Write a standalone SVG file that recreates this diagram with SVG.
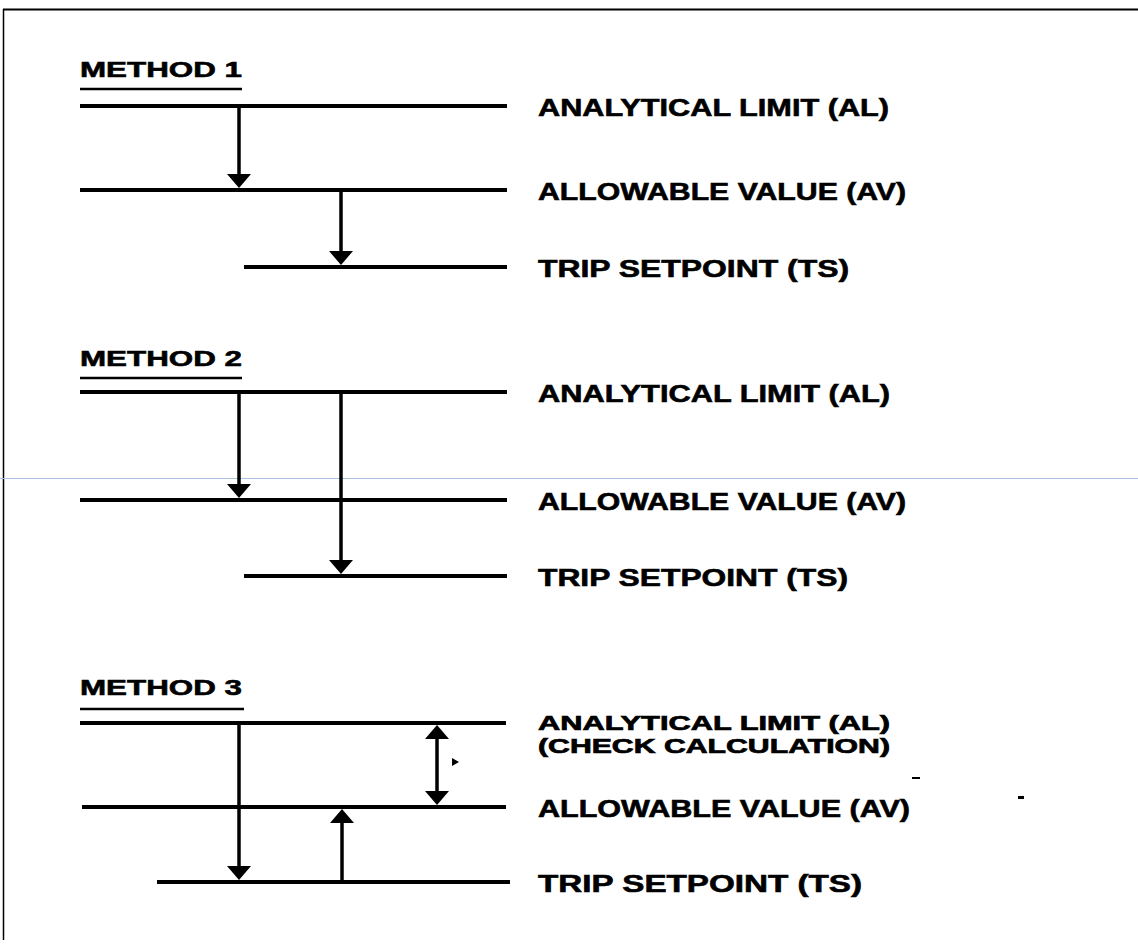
<svg xmlns="http://www.w3.org/2000/svg" width="1138" height="945" viewBox="0 0 1138 945">
  <style>
    .lvl { stroke: #000; stroke-width: 4; fill: none; }
    .uline { stroke: #000; stroke-width: 2.5; }
    .arr { stroke: #000; stroke-width: 3.5; fill: none; marker-end: url(#ah); }
    .dbl { stroke: #000; stroke-width: 3.5; fill: none; marker-end: url(#ah); marker-start: url(#ah); }
    .title { font-family: "Liberation Sans", Arial, sans-serif; font-weight: bold; font-size: 22px; fill: #000; stroke: #000; stroke-width: 0.6; }
    .lbl { font-family: "Liberation Sans", Arial, sans-serif; font-weight: bold; font-size: 24px; fill: #000; stroke: #000; stroke-width: 0.6; }
    .lbl2 { font-family: "Liberation Sans", Arial, sans-serif; font-weight: bold; font-size: 20px; fill: #000; stroke: #000; stroke-width: 0.7; }
  </style>
  <defs>
    <marker id="ah" markerUnits="userSpaceOnUse" viewBox="0 0 14 24" markerWidth="14" markerHeight="24" refX="8" refY="12" orient="auto-start-reverse">
      <path d="M0,0 L14,12 L0,24 z" fill="#000"/>
    </marker>
  </defs>
  <rect width="1138" height="945" fill="#fff"/>
  <g id="frame">
    <line x1="3" y1="9.5" x2="1138" y2="9.5" stroke="#000" stroke-width="2"/>
    <line x1="3.5" y1="9" x2="3.5" y2="940" stroke="#000" stroke-width="1.5"/>
    <line x1="0" y1="478.5" x2="1138" y2="478.5" stroke="#a9c3de" stroke-width="1"/>
  </g>

  <g id="method1">
    <text class="title" x="80" y="77" textLength="162" lengthAdjust="spacingAndGlyphs">METHOD 1</text>
    <line class="uline" x1="80" y1="89" x2="242" y2="89"/>
    <g id="m1-al"><line class="lvl" x1="80" y1="106" x2="507" y2="106"/>
      <text class="lbl" x="538" y="116" textLength="351" lengthAdjust="spacingAndGlyphs">ANALYTICAL LIMIT (AL)</text></g>
    <g id="m1-av"><line class="lvl" x1="80" y1="190" x2="507" y2="190"/>
      <text class="lbl" x="538" y="200" textLength="368" lengthAdjust="spacingAndGlyphs">ALLOWABLE VALUE (AV)</text></g>
    <g id="m1-ts"><line class="lvl" x1="244" y1="267" x2="507" y2="267"/>
      <text class="lbl" x="538" y="277" textLength="311" lengthAdjust="spacingAndGlyphs">TRIP SETPOINT (TS)</text></g>
  </g>

  <g id="method2">
    <text class="title" x="80" y="366" textLength="162" lengthAdjust="spacingAndGlyphs">METHOD 2</text>
    <line class="uline" x1="80" y1="378" x2="242" y2="378"/>
    <g id="m2-al"><line class="lvl" x1="80" y1="392" x2="507" y2="392"/>
      <text class="lbl" x="538" y="402" textLength="352" lengthAdjust="spacingAndGlyphs">ANALYTICAL LIMIT (AL)</text></g>
    <g id="m2-av"><line class="lvl" x1="80" y1="500" x2="507" y2="500"/>
      <text class="lbl" x="538" y="510" textLength="368" lengthAdjust="spacingAndGlyphs">ALLOWABLE VALUE (AV)</text></g>
    <g id="m2-ts"><line class="lvl" x1="244" y1="576" x2="507" y2="576"/>
      <text class="lbl" x="538" y="586" textLength="310" lengthAdjust="spacingAndGlyphs">TRIP SETPOINT (TS)</text></g>
  </g>

  <g id="method3">
    <text class="title" x="80" y="695" textLength="162" lengthAdjust="spacingAndGlyphs">METHOD 3</text>
    <line class="uline" x1="80" y1="709" x2="244" y2="709"/>
    <g id="m3-al"><line class="lvl" x1="80" y1="723" x2="506" y2="723"/>
      <text class="lbl2" x="538" y="730" textLength="352" lengthAdjust="spacingAndGlyphs">ANALYTICAL LIMIT (AL)</text>
      <text class="lbl2" x="538" y="753" textLength="352" lengthAdjust="spacingAndGlyphs">(CHECK CALCULATION)</text></g>
    <g id="m3-av"><line class="lvl" x1="82" y1="807" x2="506" y2="807"/>
      <text class="lbl" x="538" y="817" textLength="372" lengthAdjust="spacingAndGlyphs">ALLOWABLE VALUE (AV)</text></g>
    <g id="m3-ts"><line class="lvl" x1="157" y1="882" x2="510" y2="882"/>
      <text class="lbl" x="538" y="892" textLength="324" lengthAdjust="spacingAndGlyphs">TRIP SETPOINT (TS)</text></g>
  </g>

  <g id="connectors">
    <line class="arr" x1="239" y1="106" x2="239" y2="182"/>
    <line class="arr" x1="341" y1="190" x2="341" y2="259"/>
    <line class="arr" x1="239" y1="392" x2="239" y2="492"/>
    <line class="arr" x1="341" y1="392" x2="341" y2="568"/>
    <line class="arr" x1="239" y1="723" x2="239" y2="874"/>
    <line class="arr" x1="342" y1="882" x2="342" y2="815"/>
    <line class="dbl" x1="437" y1="731" x2="437" y2="799"/>
  </g>

  <g id="specks" fill="#000">
    <path d="M452,758 L459,762 L452,766 z"/>
    <rect x="912" y="777" width="8" height="2"/>
    <rect x="1018" y="796" width="6" height="3"/>
  </g>
</svg>
